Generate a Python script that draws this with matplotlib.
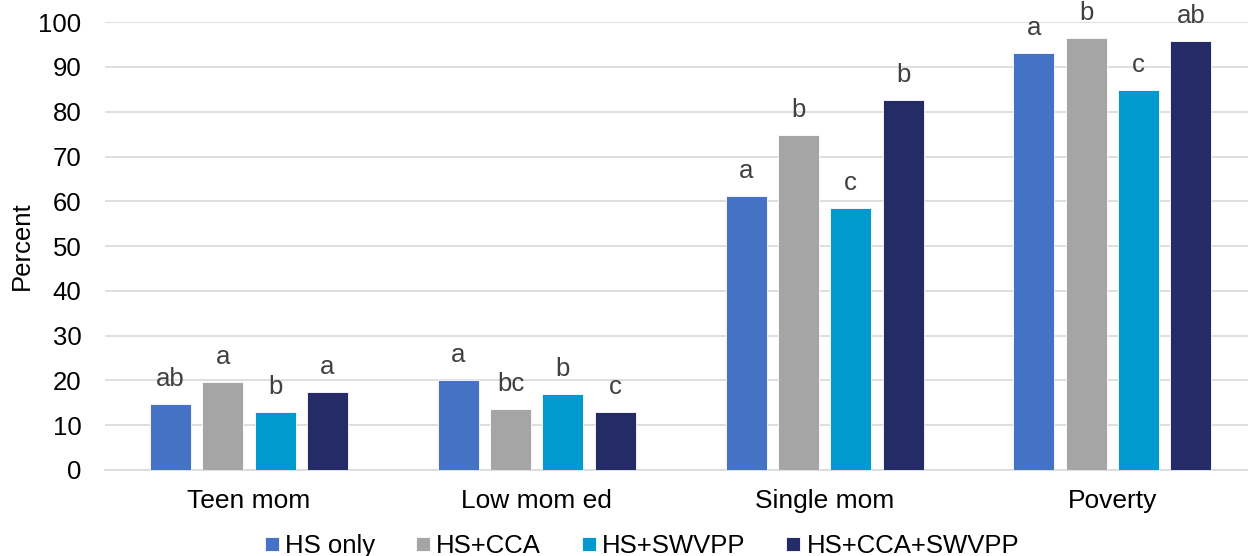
import numpy as np
import matplotlib.pyplot as plt

plt.rcParams['font.family'] = ['Liberation Sans', 'DejaVu Sans']

categories = ['Teen mom', 'Low mom ed', 'Single mom', 'Poverty']
series = ['HS only', 'HS+CCA', 'HS+SWVPP', 'HS+CCA+SWVPP']
colors = ['#4472C4', '#A5A5A5', '#009ACF', '#252B66']

hs_only = [14.7, 20.1, 61.2, 93.2]
hs_cca = [19.6, 13.6, 74.8, 96.5]
hs_swvpp = [12.9, 17.0, 58.5, 84.8]
hs_cca_swvpp = [17.4, 13.0, 82.6, 95.9]
values = [hs_only, hs_cca, hs_swvpp, hs_cca_swvpp]

letters = [
    ['ab', 'a', 'a', 'a'],
    ['a', 'bc', 'b', 'b'],
    ['b', 'b', 'c', 'c'],
    ['a', 'c', 'b', 'ab'],
]

fs = 18.5

fig, ax = plt.subplots(figsize=(12.48, 5.56), dpi=100)
fig.subplots_adjust(left=0.0841, right=1.0, top=0.96, bottom=0.155)

x = np.arange(len(categories))
width = 0.1425
step = 0.1817
offsets = (np.arange(4) - 1.5) * step

for i in range(4):
    bars = ax.bar(x + offsets[i], values[i], width, color=colors[i], label=series[i],
                  edgecolor='white', linewidth=0.6, zorder=3)
    for b, lab in zip(bars, letters[i]):
        ax.annotate(lab, (b.get_x() + b.get_width() / 2, b.get_height()),
                    xytext=(0, 13), textcoords='offset points', ha='center', va='baseline',
                    fontsize=fs, color='#404040')

ax.set_ylim(0, 100)
ax.set_xlim(-0.5, 3.471)
ax.set_yticks(range(0, 101, 10))
ax.set_xticks(x)
ax.set_xticklabels(categories, fontsize=19)
ax.tick_params(axis='y', labelsize=fs, length=0, pad=17)
ax.tick_params(axis='x', length=0, pad=14)
ax.set_ylabel('Percent', fontsize=fs, labelpad=3)
ax.grid(axis='y', color='#D9D9D9', linewidth=1.2, zorder=0)
for s in ['top', 'right', 'left']:
    ax.spines[s].set_visible(False)
ax.spines['bottom'].set_color('#D9D9D9')
ax.spines['bottom'].set_linewidth(1.2)

fig.legend(*ax.get_legend_handles_labels(), loc='center', bbox_to_anchor=(0.5144, 0.018),
           ncol=4, frameon=False, fontsize=fs, handlelength=0.545, handleheight=0.5,
           handletextpad=0.23, columnspacing=1.6, borderpad=0, borderaxespad=0)

fig.savefig('out.png')
